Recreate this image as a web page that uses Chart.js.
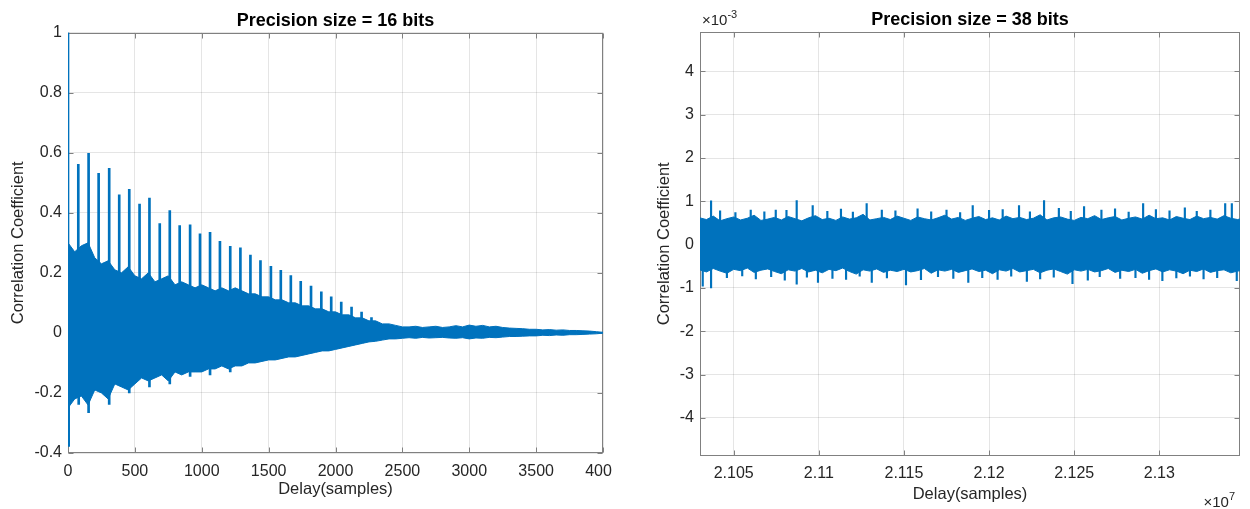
<!DOCTYPE html>
<html>
<head>
<meta charset="utf-8">
<script src="https://cdn.jsdelivr.net/npm/chart.js@4.4.1/dist/chart.umd.min.js"></script>
<style>
  body { margin: 0; background: #fff; width: 1250px; height: 509px; position: relative; overflow: hidden; }
  canvas { position: absolute; top: 0; }
  #left { left: 0; }
  #right { left: 620px; }
</style>
</head>
<body>
<canvas id="left" width="612" height="509"></canvas>
<canvas id="right" width="630" height="509"></canvas>
<script>
const FONT = '"Liberation Sans", Arial, sans-serif';
const BLUE = '#0072BD';
const AXIS = '#808080';
const TEXT = '#262626';

// ---- left panel: 16 bits, delay 0..4000, envelope read every 50 samples ----
const leftStep = 50;
const leftUpper = [
  0.30, 0.27, 0.29, 0.30, 0.25, 0.23, 0.24, 0.21, 0.20, 0.22,
  0.19, 0.18, 0.20, 0.17, 0.18, 0.19, 0.16, 0.17, 0.16, 0.15,
  0.16, 0.15, 0.14, 0.15, 0.14, 0.15, 0.14, 0.13, 0.13, 0.12,
  0.12, 0.11, 0.11, 0.10, 0.10, 0.09, 0.09, 0.08, 0.08, 0.07,
  0.07, 0.06, 0.06, 0.05, 0.05, 0.04, 0.04, 0.03, 0.03, 0.025,
  0.02, 0.02, 0.022, 0.018, 0.02, 0.022, 0.018, 0.02, 0.024, 0.02,
  0.026, 0.022, 0.025, 0.02, 0.022, 0.018, 0.016, 0.015, 0.014, 0.012,
  0.012, 0.01, 0.011, 0.009, 0.01, 0.008, 0.008, 0.007, 0.006, 0.004,
  0.002
];
const leftLower = [
  -0.25, -0.22, -0.21, -0.24, -0.19, -0.20, -0.22, -0.17, -0.18, -0.19,
  -0.17, -0.15, -0.16, -0.15, -0.14, -0.16, -0.13, -0.14, -0.13, -0.13,
  -0.13, -0.12, -0.12, -0.11, -0.12, -0.11, -0.11, -0.10, -0.10, -0.095,
  -0.09, -0.09, -0.085, -0.08, -0.08, -0.075, -0.07, -0.065, -0.06, -0.06,
  -0.055, -0.05, -0.045, -0.04, -0.035, -0.03, -0.028, -0.024, -0.02, -0.02,
  -0.018, -0.016, -0.018, -0.015, -0.017, -0.016, -0.015, -0.017, -0.018, -0.016,
  -0.02, -0.017, -0.018, -0.015, -0.016, -0.014, -0.012, -0.012, -0.011, -0.01,
  -0.01, -0.008, -0.009, -0.007, -0.008, -0.006, -0.006, -0.005, -0.004, -0.003,
  -0.001
];
// periodic peaks (every ~75 samples) plus lag 0
const leftSpikeDelay = [
  0, 5, 77, 80, 154, 154, 229, 308, 308, 383, 458, 458, 535, 609, 609, 686,
  761, 761, 835, 913, 913, 987, 1062, 1062, 1136, 1213, 1213, 1289, 1364, 1439,
  1517, 1591, 1666, 1740, 1817, 1894, 1968, 2043, 2120, 2195, 2269
];
const leftSpikeValue = [
  1.0, -0.378, 0.561, -0.238, 0.598, -0.266, 0.531, 0.548, -0.238, 0.460, 0.478, -0.20, 0.429, 0.449, -0.18, 0.364,
  0.407, -0.17, 0.357, 0.360, -0.145, 0.330, 0.335, -0.14, 0.305, 0.288, -0.13, 0.283, 0.259, 0.241,
  0.222, 0.208, 0.191, 0.172, 0.156, 0.137, 0.120, 0.103, 0.086, 0.069, 0.051
];
const leftXTicks = [0, 500, 1000, 1500, 2000, 2500, 3000, 3500, 4000];
const leftYTicks = [-0.4, -0.2, 0, 0.2, 0.4, 0.6, 0.8, 1];

// ---- right panel: 38 bits, values in units of 1e-3, envelope every 4000 samples ----
const rightStart = 21030000;
const rightStep = 4000;
const rightUpper = [
  0.62, 0.58, 0.66, 0.55, 0.60, 0.64, 0.57, 0.61, 0.68, 0.56,
  0.59, 0.63, 0.57, 0.65, 0.60, 0.55, 0.62, 0.67, 0.58, 0.61,
  0.56, 0.64, 0.59, 0.62, 0.70, 0.57, 0.60, 0.63, 0.58, 0.66,
  0.61, 0.56, 0.64, 0.60, 0.57, 0.62, 0.68, 0.59, 0.63, 0.56,
  0.61, 0.65, 0.58, 0.62, 0.57, 0.66, 0.60, 0.63, 0.58, 0.61,
  0.69, 0.57, 0.62, 0.64, 0.59, 0.56, 0.63, 0.60, 0.67, 0.58,
  0.62, 0.65, 0.57, 0.61, 0.64, 0.59, 0.68, 0.60, 0.62, 0.57,
  0.65, 0.61, 0.58, 0.66, 0.60, 0.63, 0.59, 0.67, 0.61, 0.58,
  0.62
];
const rightLower = [
  -0.58, -0.63, -0.55, -0.61, -0.66, -0.57, -0.60, -0.54, -0.64, -0.59,
  -0.56, -0.62, -0.67, -0.58, -0.61, -0.55, -0.63, -0.59, -0.65, -0.57,
  -0.60, -0.54, -0.62, -0.68, -0.58, -0.61, -0.56, -0.64, -0.59, -0.62,
  -0.57, -0.63, -0.60, -0.55, -0.66, -0.58, -0.61, -0.57, -0.64, -0.60,
  -0.56, -0.62, -0.59, -0.67, -0.58, -0.61, -0.55, -0.63, -0.60, -0.57,
  -0.65, -0.59, -0.56, -0.62, -0.68, -0.58, -0.61, -0.57, -0.63, -0.60,
  -0.55, -0.64, -0.59, -0.62, -0.57, -0.66, -0.60, -0.56, -0.63, -0.58,
  -0.61, -0.67, -0.59, -0.62, -0.56, -0.64, -0.60, -0.58, -0.65, -0.61,
  -0.59
];
const rightSpikeDelay = [
  21036700, 21074700, 21087000, 21096400, 21128100, 21190400, 21217600, 21232300, 21255800, 21290500, 21338700, 21342600,
  21042000, 21051000, 21060000, 21068000, 21081000, 21105000, 21113000, 21120000, 21137000, 21145000, 21158000, 21166000,
  21175000, 21183000, 21200000, 21208000, 21224000, 21241000, 21248000, 21266000, 21274000, 21282000, 21298000, 21306000,
  21315000, 21322000, 21330000,
  21031800, 21036700, 21087000, 21099500, 21131100, 21151200, 21187800, 21222200, 21249000, 21301800, 21345500,
  21046000, 21055000, 21063000, 21072000, 21080000, 21093000, 21108000, 21116000, 21124000, 21140000, 21160000, 21170000,
  21179000, 21196000, 21205000, 21213000, 21230000, 21238000, 21258000, 21265000, 21277000, 21286000, 21294000, 21310000,
  21318000, 21326000, 21334000
];
const rightSpikeValue = [
  1.01, 0.80, 1.02, 0.90, 0.95, 0.90, 0.90, 1.02, 0.88, 0.95, 0.95, 0.95,
  0.78, 0.74, 0.80, 0.76, 0.79, 0.77, 0.82, 0.75, 0.80, 0.78, 0.83, 0.76,
  0.80, 0.74, 0.79, 0.81, 0.76, 0.84, 0.77, 0.80, 0.83, 0.75, 0.81, 0.78,
  0.85, 0.77, 0.80,
  -0.96, -1.00, -0.91, -0.87, -0.87, -0.93, -0.87, -0.85, -0.90, -0.83, -0.83,
  -0.76, -0.72, -0.79, -0.74, -0.82, -0.75, -0.78, -0.80, -0.73, -0.77, -0.81, -0.74,
  -0.78, -0.76, -0.80, -0.73, -0.79, -0.75, -0.82, -0.74, -0.78, -0.76, -0.80, -0.77,
  -0.73, -0.79, -0.76
];
const rightXTicks = [21050000, 21100000, 21150000, 21200000, 21250000, 21300000];
const rightYTicks = [-4, -3, -2, -1, 0, 1, 2, 3, 4];

// box and inward tick marks under the data, MATLAB style exponent labels on top
const framePlugin = {
  id: 'frame',
  beforeDatasetsDraw(chart) {
    const { ctx, chartArea: a, scales } = chart;
    const L = Math.round(a.left) + 0.5, R = Math.round(a.right) - 0.5;
    const T = Math.round(a.top) + 0.5, B = Math.round(a.bottom) - 0.5;
    ctx.save();
    ctx.strokeStyle = AXIS;
    ctx.lineWidth = 1;
    ctx.beginPath();
    scales.x.ticks.forEach(t => {
      const px = Math.round(scales.x.getPixelForValue(t.value)) + 0.5;
      ctx.moveTo(px, B); ctx.lineTo(px, B - 5);
      ctx.moveTo(px, T); ctx.lineTo(px, T + 5);
    });
    scales.y.ticks.forEach(t => {
      const py = Math.round(scales.y.getPixelForValue(t.value)) + 0.5;
      ctx.moveTo(L, py); ctx.lineTo(L + 5, py);
      ctx.moveTo(R, py); ctx.lineTo(R - 5, py);
    });
    ctx.stroke();
    ctx.strokeRect(L, T, R - L, B - T);
    ctx.restore();
  },
  afterDraw(chart, args, opts) {
    const { ctx, chartArea: a } = chart;
    ctx.save();
    ctx.fillStyle = TEXT;
    ctx.textBaseline = 'alphabetic';
    if (opts.yExp) {
      ctx.textAlign = 'left';
      ctx.font = '15px ' + FONT;
      const base = '\u00d710';
      ctx.fillText(base, a.left + 2, a.top - 7);
      const w = ctx.measureText(base).width;
      ctx.font = '11px ' + FONT;
      ctx.fillText(opts.yExp, a.left + 2 + w, a.top - 14);
    }
    if (opts.xExp) {
      ctx.font = '11px ' + FONT;
      const ew = ctx.measureText(opts.xExp).width;
      ctx.textAlign = 'right';
      ctx.fillText(opts.xExp, a.right - 5, chart.height - 9);
      ctx.font = '15px ' + FONT;
      ctx.fillText('\u00d710', a.right - 5 - ew, chart.height - 2);
    }
    ctx.restore();
  }
};

function makePanel(id, p) {
  const upperPts = p.upper.map((v, i) => ({ x: p.start + i * p.step, y: v }));
  const lowerPts = p.lower.map((v, i) => ({ x: p.start + i * p.step, y: v }));
  const spikePts = p.spikeDelay.map((d, i) => ({ x: d, y: p.spikeValue[i] }));

  return new Chart(document.getElementById(id), {
    type: 'line',
    data: {
      datasets: [
        { type: 'line', data: upperPts, borderColor: BLUE, borderWidth: 1, pointRadius: 0, fill: false, tension: 0 },
        { type: 'line', data: lowerPts, borderColor: BLUE, backgroundColor: BLUE, borderWidth: 1, pointRadius: 0, fill: '-1', tension: 0 },
        { type: 'bar', data: spikePts, backgroundColor: BLUE, borderWidth: 0, barThickness: p.spikeWidth }
      ]
    },
    options: {
      responsive: false,
      animation: false,
      devicePixelRatio: 1,
      events: [],
      layout: { padding: { left: 0, right: p.padRight, top: 0, bottom: 0 } },
      plugins: {
        legend: { display: false },
        tooltip: { enabled: false },
        title: {
          display: true,
          text: p.title,
          fullSize: false,
          color: '#000',
          font: { family: FONT, size: 18, weight: 'bold' },
          padding: { top: p.titleTop, bottom: p.titleBottom }
        },
        frame: { yExp: p.yExp, xExp: p.xExp }
      },
      scales: {
        x: {
          type: 'linear',
          offset: false,
          min: p.xMin,
          max: p.xMax,
          afterBuildTicks: s => { s.ticks = p.xTicks.map(v => ({ value: v })); },
          afterFit: s => { s.height = p.xHeight; s.paddingLeft = 0; s.paddingRight = 0; },
          grid: { color: 'rgba(0,0,0,0.1)', drawTicks: false, offset: false },
          border: { display: false },
          ticks: {
            autoSkip: false, maxRotation: 0, minRotation: 0,
            padding: p.xTickPad, color: TEXT,
            font: { family: FONT, size: 16 },
            callback: p.xLabel
          },
          title: {
            display: true, text: 'Delay(samples)', color: TEXT,
            font: { family: FONT, size: 16.5 },
            padding: { top: 0, bottom: p.xTitlePad }
          }
        },
        y: {
          min: p.yMin,
          max: p.yMax,
          afterBuildTicks: s => { s.ticks = p.yTicks.map(v => ({ value: v })); },
          afterFit: s => { s.width = p.yWidth; s.paddingTop = 0; s.paddingBottom = 0; },
          grid: { color: 'rgba(0,0,0,0.1)', drawTicks: false },
          border: { display: false },
          ticks: {
            padding: 6, color: TEXT,
            font: { family: FONT, size: 16 },
            callback: v => String(v)
          },
          title: {
            display: true, text: 'Correlation Coefficient', color: TEXT,
            font: { family: FONT, size: 16.5 },
            padding: { top: p.yTitlePad, bottom: 0 }
          }
        }
      }
    },
    plugins: [framePlugin]
  });
}

makePanel('left', {
  title: 'Precision size = 16 bits',
  upper: leftUpper, lower: leftLower, start: 0, step: leftStep,
  spikeDelay: leftSpikeDelay, spikeValue: leftSpikeValue, spikeWidth: 2,
  xMin: 0, xMax: 4000, yMin: -0.4, yMax: 1,
  xTicks: leftXTicks, yTicks: leftYTicks,
  xLabel: v => String(v),
  padRight: 9, xHeight: 56, yWidth: 68,
  titleTop: 10, titleBottom: 1,
  xTickPad: 9, xTitlePad: 10, yTitlePad: 9
});

makePanel('right', {
  title: 'Precision size = 38 bits',
  upper: rightUpper, lower: rightLower, start: rightStart, step: rightStep,
  spikeDelay: rightSpikeDelay, spikeValue: rightSpikeValue, spikeWidth: 1.5,
  xMin: 21030200, xMax: 21347400, yMin: -4.88, yMax: 4.92,
  xTicks: rightXTicks, yTicks: rightYTicks,
  xLabel: v => String(v / 1e7),
  padRight: 10, xHeight: 53, yWidth: 80,
  titleTop: 9, titleBottom: 1,
  xTickPad: 8, xTitlePad: 5, yTitlePad: 35,
  yExp: '-3', xExp: '7'
});
</script>
</body>
</html>
